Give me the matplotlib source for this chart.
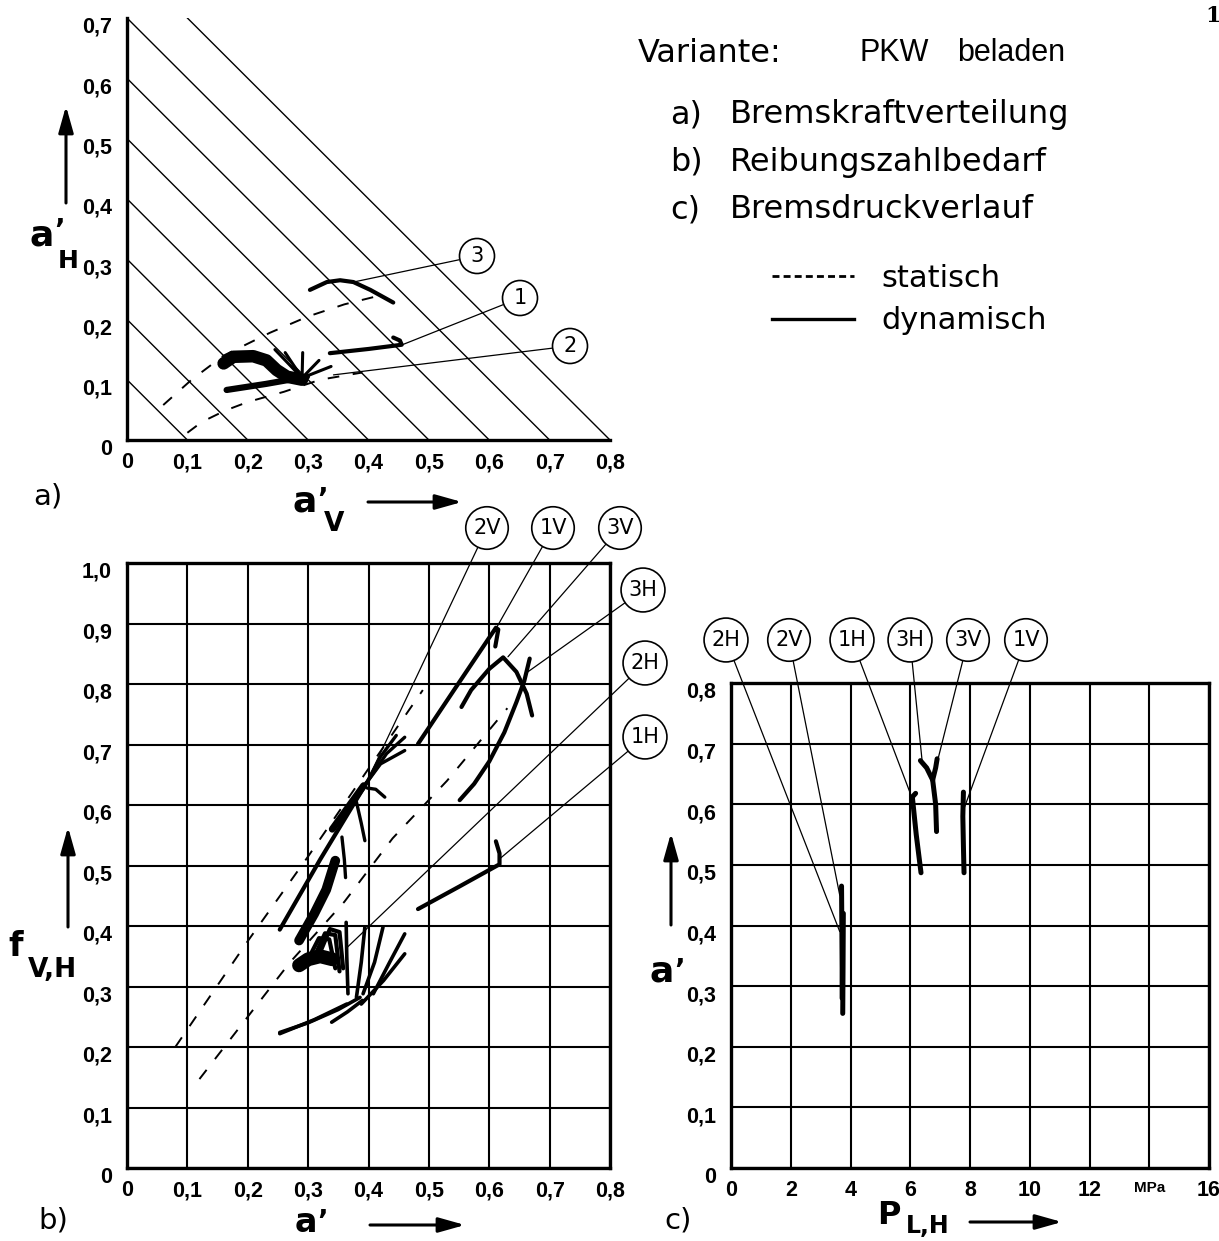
import matplotlib
matplotlib.use("Agg")
import matplotlib.pyplot as plt
from matplotlib.lines import Line2D
from matplotlib.transforms import ScaledTranslation

# ---------------------------------------------------------------- data
# a) Bremskraftverteilung: a'_V (x) vs a'_H (y)
a_xticks = [0, 0.1, 0.2, 0.3, 0.4, 0.5, 0.6, 0.7, 0.8]
a_xlabels = ["0", "0,1", "0,2", "0,3", "0,4", "0,5", "0,6", "0,7", "0,8"]
a_yticks = [0, 0.1, 0.2, 0.3, 0.4, 0.5, 0.6, 0.7]
a_ylabels = ["0", "0,1", "0,2", "0,3", "0,4", "0,5", "0,6", "0,7"]
a_iso = [0.1, 0.2, 0.3, 0.4, 0.5, 0.6, 0.7, 0.8]          # a'_V + a'_H = const

a_stat_up_x = [0.06, 0.107, 0.16, 0.237, 0.30, 0.36, 0.42]
a_stat_up_y = [0.058, 0.10, 0.14, 0.178, 0.205, 0.225, 0.24]
a_stat_lo_x = [0.10, 0.124, 0.163, 0.20, 0.26, 0.32, 0.39]
a_stat_lo_y = [0.012, 0.03, 0.049, 0.063, 0.08, 0.10, 0.112]

a_dyn3_x = [0.303, 0.331, 0.353, 0.375, 0.403, 0.441]
a_dyn3_y = [0.249, 0.262, 0.265, 0.262, 0.249, 0.228]
a_dyn1_x = [0.336, 0.40, 0.455, 0.452, 0.441]
a_dyn1_y = [0.144, 0.151, 0.158, 0.165, 0.170]
a_dyn2_x = [0.165, 0.23, 0.298]
a_dyn2_y = [0.083, 0.093, 0.105]
a_blob_x = [0.160, 0.176, 0.209, 0.231, 0.248, 0.265, 0.29]
a_blob_y = [0.127, 0.138, 0.139, 0.132, 0.116, 0.105, 0.100]
a_hub = (0.29, 0.103)
a_spike_x = [0.245, 0.262, 0.291, 0.318, 0.338]
a_spike_y = [0.150, 0.145, 0.145, 0.132, 0.122]

# b) Reibungszahlbedarf: a' (x) vs f_V,H (y)
b_xticks = a_xticks
b_xlabels = a_xlabels
b_yticks = [0, 0.1, 0.2, 0.3, 0.4, 0.5, 0.6, 0.7, 0.8, 0.9, 1.0]
b_ylabels = ["0", "0,1", "0,2", "0,3", "0,4", "0,5", "0,6", "0,7", "0,8", "0,9", "1,0"]

b_stat_up_x = [0.08, 0.20, 0.30, 0.40, 0.49]
b_stat_up_y = [0.20, 0.375, 0.515, 0.66, 0.79]
b_stat_lo_x = [0.12, 0.20, 0.27, 0.36, 0.44, 0.53, 0.63]
b_stat_lo_y = [0.147, 0.25, 0.34, 0.44, 0.545, 0.64, 0.76]

b_1V_x = [0.482, 0.545, 0.611, 0.615, 0.610]
b_1V_y = [0.701, 0.795, 0.893, 0.890, 0.862]
b_3V_x = [0.554, 0.570, 0.600, 0.623, 0.645, 0.662, 0.671]
b_3V_y = [0.762, 0.790, 0.825, 0.844, 0.820, 0.784, 0.748]
b_3H_x = [0.551, 0.575, 0.600, 0.625, 0.645, 0.658, 0.667]
b_3H_y = [0.608, 0.635, 0.672, 0.720, 0.770, 0.805, 0.842]
b_1H_x = [0.482, 0.55, 0.617, 0.617, 0.611]
b_1H_y = [0.428, 0.465, 0.502, 0.520, 0.540]

b_2V_x = [0.253, 0.32, 0.397]
b_2V_y = [0.394, 0.51, 0.637]
b_2V_thick_x = [0.34, 0.392]
b_2V_thick_y = [0.56, 0.632]
b_fan_up = [
    ([0.397, 0.42, 0.46], [0.637, 0.668, 0.690]),
    ([0.397, 0.42, 0.446], [0.637, 0.680, 0.715]),
    ([0.397, 0.43, 0.46], [0.637, 0.685, 0.712]),
    ([0.398, 0.412, 0.427], [0.628, 0.626, 0.613]),
    ([0.380, 0.388, 0.394], [0.605, 0.570, 0.541]),
    ([0.356, 0.360, 0.362], [0.547, 0.510, 0.480]),
]
b_band_x = [0.285, 0.31, 0.33, 0.345]
b_band_y = [0.376, 0.42, 0.46, 0.508]
b_blob_x = [0.285, 0.30, 0.32, 0.34]
b_blob_y = [0.335, 0.345, 0.350, 0.345]
b_arcs = [
    ([0.300, 0.318, 0.335, 0.345], [0.345, 0.380, 0.378, 0.330]),
    ([0.310, 0.328, 0.345, 0.352], [0.348, 0.388, 0.385, 0.325]),
    ([0.318, 0.336, 0.352, 0.358], [0.352, 0.395, 0.390, 0.330]),
]
b_fan_low = [
    ([0.363, 0.364, 0.366], [0.406, 0.350, 0.288]),
    ([0.394, 0.388, 0.380], [0.398, 0.340, 0.282]),
    ([0.424, 0.410, 0.391], [0.398, 0.340, 0.288]),
    ([0.460, 0.435, 0.408], [0.387, 0.340, 0.288]),
    ([0.460, 0.425, 0.388], [0.354, 0.310, 0.271]),
    ([0.253, 0.300, 0.350, 0.386], [0.224, 0.240, 0.262, 0.282]),
    ([0.253, 0.310, 0.364], [0.222, 0.245, 0.271]),
    ([0.339, 0.365, 0.390], [0.241, 0.258, 0.277]),
]

# c) Bremsdruckverlauf: p_L,H (x, MPa) vs a' (y)
c_xticks = [0, 2, 4, 6, 8, 10, 12, 14, 16]
c_xlabels = ["0", "2", "4", "6", "8", "10", "12", "MPa", "16"]
c_yticks = [0, 0.1, 0.2, 0.3, 0.4, 0.5, 0.6, 0.7, 0.8]
c_ylabels = ["0", "0,1", "0,2", "0,3", "0,4", "0,5", "0,6", "0,7", "0,8"]

c_2H_x = [3.70, 3.71, 3.72, 3.72]
c_2H_y = [0.465, 0.40, 0.33, 0.28]
c_2V_x = [3.76, 3.75, 3.74]
c_2V_y = [0.42, 0.33, 0.255]
c_1H_x = [6.18, 6.07, 6.20, 6.36]
c_1H_y = [0.618, 0.612, 0.55, 0.487]
c_3H_x = [6.34, 6.55, 6.75, 6.85, 6.88]
c_3H_y = [0.672, 0.66, 0.64, 0.60, 0.555]
c_3V_x = [6.90, 6.85, 6.75]
c_3V_y = [0.675, 0.66, 0.64]
c_1V_x = [7.78, 7.76, 7.78, 7.80]
c_1V_y = [0.620, 0.58, 0.53, 0.487]

# circled labels: text, centre (figure px from top-left), leader target (data)
a_tags = [("3", (477, 256), (0.375, 0.262)),
          ("1", (520, 298), (0.456, 0.158)),
          ("2", (570, 346), (0.342, 0.108))]
b_tags = [("2V", (487, 528), (0.398, 0.640)),
          ("1V", (553, 528), (0.612, 0.893)),
          ("3V", (620, 528), (0.631, 0.845)),
          ("3H", (643, 590), (0.661, 0.818)),
          ("2H", (645, 663), (0.365, 0.365)),
          ("1H", (645, 737), (0.616, 0.510))]
c_tags = [("2H", (726, 640), (3.64, 0.39)),
          ("2V", (789, 640), (3.64, 0.45)),
          ("1H", (852, 640), (6.04, 0.613)),
          ("3H", (910, 640), (6.40, 0.670)),
          ("3V", (968, 640), (6.89, 0.667)),
          ("1V", (1026, 640), (7.80, 0.593))]

# ---------------------------------------------------------------- figure
W, H = 1219, 1241
fig = plt.figure(figsize=(W / 100, H / 100), dpi=100)
fig.patch.set_facecolor("white")

NARROW = ["Liberation Sans Narrow", "Liberation Sans", "DejaVu Sans"]
ROUND = ["DejaVu Sans"]

ov = fig.add_axes([0, 0, 1, 1])
ov.set_xlim(0, W)
ov.set_ylim(H, 0)
ov.axis("off")


def px_axes(l, t, r, b):
    return fig.add_axes([l / W, 1 - b / H, (r - l) / W, (b - t) / H])


def style_ticks(ax, xt, xl, yt, yl):
    ax.set_xticks(xt)
    ax.set_xticklabels(xl)
    ax.set_yticks(yt)
    ax.set_yticklabels(yl)
    ax.tick_params(length=0, pad=9)
    ax.tick_params(axis="y", pad=11)
    for lab in ax.get_xticklabels() + ax.get_yticklabels():
        lab.set_fontfamily(NARROW)
        lab.set_fontweight("bold")
        lab.set_fontsize(15.5)
    off = ScaledTranslation(0, -5 / 72, fig.dpi_scale_trans)
    for lab in ax.get_yticklabels():
        lab.set_transform(lab.get_transform() + off)


def tag(ax, text, centre, target):
    ax.annotate(text, xy=target, xycoords="data",
                xytext=(centre[0], H - centre[1]), textcoords="figure pixels",
                ha="center", va="center", fontsize=15, family=ROUND,
                bbox=dict(boxstyle="circle,pad=0.36", fc="white", ec="black", lw=1.2),
                arrowprops=dict(arrowstyle="-", lw=0.9, color="black",
                                shrinkA=0, shrinkB=0),
                zorder=6)


THICK = dict(color="black", lw=3.0, solid_capstyle="round", solid_joinstyle="round")
DASH = dict(color="black", lw=1.4, ls=(0, (6, 7)))

# ---- a)
ax_a = px_axes(127, 18, 610, 440)
ax_a.set_xlim(0, 0.8)
ax_a.set_ylim(0, 0.7)
for s in ("top", "right"):
    ax_a.spines[s].set_visible(False)
for s in ("left", "bottom"):
    ax_a.spines[s].set_linewidth(2.4)
style_ticks(ax_a, a_xticks, a_xlabels, a_yticks, a_ylabels)
for c in a_iso:
    ax_a.plot([0, c], [c, 0], color="black", lw=1.0, clip_on=True)
ax_a.plot(a_stat_up_x, a_stat_up_y, **DASH)
ax_a.plot(a_stat_lo_x, a_stat_lo_y, **DASH)
ax_a.plot(a_dyn3_x, a_dyn3_y, **THICK)
ax_a.plot(a_dyn1_x, a_dyn1_y, **THICK)
ax_a.plot(a_dyn2_x, a_dyn2_y, **dict(THICK, lw=4.5))
ax_a.plot(a_blob_x, a_blob_y, **dict(THICK, lw=9))
for sx, sy in zip(a_spike_x, a_spike_y):
    ax_a.plot([a_hub[0], sx], [a_hub[1], sy], **dict(THICK, lw=2.2))
for t in a_tags:
    tag(ax_a, *t)

# ---- b)
ax_b = px_axes(127, 563, 610, 1168)
ax_b.set_xlim(0, 0.8)
ax_b.set_ylim(0, 1.0)
for s in ax_b.spines.values():
    s.set_linewidth(2.4)
style_ticks(ax_b, b_xticks, b_xlabels, b_yticks, b_ylabels)
ax_b.grid(True, color="black", lw=1.5)
ax_b.set_axisbelow(True)
ax_b.plot(b_stat_up_x, b_stat_up_y, **DASH)
ax_b.plot(b_stat_lo_x, b_stat_lo_y, **DASH)
for xs, ys in [(b_1V_x, b_1V_y), (b_3V_x, b_3V_y), (b_3H_x, b_3H_y),
               (b_1H_x, b_1H_y), (b_2V_x, b_2V_y)]:
    ax_b.plot(xs, ys, **THICK)
ax_b.plot(b_2V_thick_x, b_2V_thick_y, **dict(THICK, lw=5))
for xs, ys in b_fan_up:
    ax_b.plot(xs, ys, **dict(THICK, lw=2.4))
ax_b.plot(b_band_x, b_band_y, **dict(THICK, lw=7))
ax_b.plot(b_blob_x, b_blob_y, **dict(THICK, lw=10))
for xs, ys in b_arcs:
    ax_b.plot(xs, ys, **dict(THICK, lw=3))
for xs, ys in b_fan_low:
    ax_b.plot(xs, ys, **dict(THICK, lw=2.6))
for t in b_tags:
    tag(ax_b, *t)

# ---- c)
ax_c = px_axes(731, 683, 1209, 1168)
ax_c.set_xlim(0, 16)
ax_c.set_ylim(0, 0.8)
for s in ax_c.spines.values():
    s.set_linewidth(2.4)
style_ticks(ax_c, c_xticks, c_xlabels, c_yticks, c_ylabels)
for lab in ax_c.get_xticklabels():
    if lab.get_text() == "MPa":
        lab.set_fontsize(11)
ax_c.grid(True, color="black", lw=1.5)
ax_c.set_axisbelow(True)
for xs, ys in [(c_2H_x, c_2H_y), (c_2V_x, c_2V_y), (c_1H_x, c_1H_y),
               (c_3H_x, c_3H_y), (c_3V_x, c_3V_y), (c_1V_x, c_1V_y)]:
    ax_c.plot(xs, ys, **dict(THICK, lw=3.6))
for t in c_tags:
    tag(ax_c, *t)

# ---------------------------------------------------------------- labels
BOLD = dict(family=ROUND, weight="bold", color="black")
PRIME = "\u2019"


def arrow(x0, y0, x1, y1):
    ov.annotate("", xy=(x1, y1), xytext=(x0, y0),
                arrowprops=dict(arrowstyle="-|>,head_length=1.6,head_width=0.45",
                                mutation_scale=10, lw=2.2, color="black",
                                shrinkA=0, shrinkB=0))


def prime(x, y):
    # the apostrophe glyph sits high in its line box; anchor on the baseline
    ov.text(x, y + 18, PRIME, fontsize=20, ha="center", va="baseline", **BOLD)


# a'_H / a'_V
ov.text(42, 236, "a", fontsize=26, ha="center", va="center", **BOLD)
prime(60, 221)
ov.text(68, 261, "H", fontsize=18, ha="center", va="center", **BOLD)
arrow(66, 203, 66, 106)
ov.text(305, 502, "a", fontsize=26, ha="center", va="center", **BOLD)
prime(323, 490)
ov.text(334, 524, "V", fontsize=19, ha="center", va="center", **BOLD)
arrow(368, 502, 462, 502)

# f_V,H / a'
ov.text(16, 946, "f", fontsize=24, ha="center", va="center", **BOLD)
ov.text(52, 970, "V,H", fontsize=19, ha="center", va="center", **BOLD)
arrow(68, 927, 68, 827)
ov.text(306, 1222, "a", fontsize=24, ha="center", va="center", **BOLD)
prime(323, 1212)
arrow(370, 1225, 465, 1225)

# a' / p_L,H
ov.text(662, 972, "a", fontsize=26, ha="center", va="center", **BOLD)
prime(680, 961)
arrow(671, 925, 671, 833)
ov.text(889, 1216, "P", fontsize=23, ha="center", va="center", **BOLD)
ov.text(928, 1226, "L,H", fontsize=17, ha="center", va="center", **BOLD)
arrow(970, 1222, 1062, 1222)

# panel letters
for s, x, y in [("a)", 48, 496), ("b)", 53, 1220), ("c)", 678, 1220)]:
    ov.text(x, y, s, fontsize=21, family=ROUND, ha="center", va="center")

# header
ov.text(638, 53, "Variante:", fontsize=23, family=ROUND, ha="left", va="center")
ov.text(860, 53, "PKW", fontsize=22, family=NARROW, ha="left", va="center")
ov.text(957, 53, "beladen", fontsize=22, family=NARROW, ha="left", va="center")
for s, t, y in [("a)", "Bremskraftverteilung", 115),
                ("b)", "Reibungszahlbedarf", 162),
                ("c)", "Bremsdruckverlauf", 210)]:
    ov.text(670, y, s, fontsize=23, family=ROUND, ha="left", va="center")
    ov.text(730, y, t, fontsize=23, family=ROUND, ha="left", va="center")
ov.text(1213, 16, "1", fontsize=16, family=["DejaVu Serif"], weight="bold",
        ha="center", va="center")

handles = [Line2D([], [], color="black", lw=2.0, ls=(0, (2.5, 1.5))),
           Line2D([], [], color="black", lw=2.4)]
fig.legend(handles, ["statisch", "dynamisch"], loc="upper left",
           bbox_to_anchor=(744 / W, 1 - 236 / H), frameon=False,
           prop=dict(family=ROUND, size=22), handlelength=2.7,
           handletextpad=0.9, labelspacing=0.45)

fig.savefig("out.png", dpi=100, facecolor="white")
